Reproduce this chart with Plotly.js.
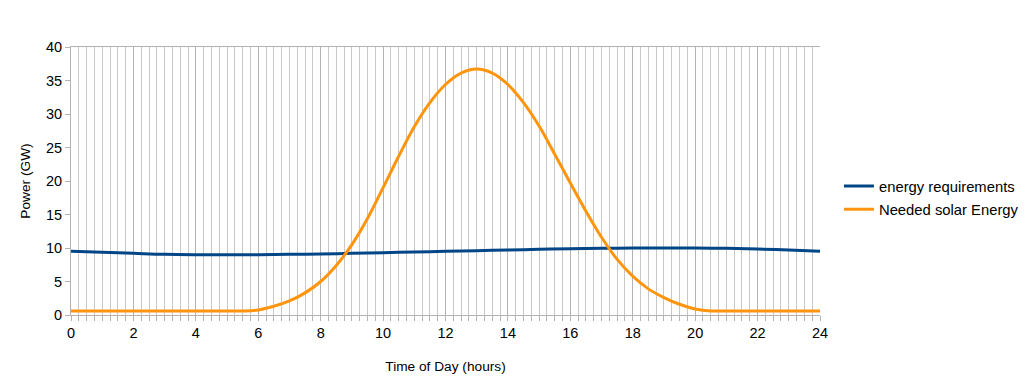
<!DOCTYPE html>
<html>
<head>
<meta charset="utf-8">
<script src="https://cdn.plot.ly/plotly-3.0.1.min.js"></script>
<style>html,body{margin:0;padding:0;background:#fff;}#chart{width:1029px;height:384px;}</style>
</head>
<body>
<div id="chart"></div>
<script>
const demandHours = [0,1,2,3,4,5,6,7,8,9,10,11,12,13,14,15,16,17,18,19,20,21,22,23,24];
const energyRequirements = [9.5,9.35,9.2,9.05,9.0,9.0,9.0,9.05,9.1,9.2,9.3,9.4,9.5,9.6,9.7,9.8,9.9,9.95,10.0,10.0,10.0,9.95,9.85,9.7,9.5];

const solarHours = [0,1,2,3,4,5,5.5,6,6.5,7,7.5,8,8.5,9,9.5,10,10.5,11,11.5,12,12.5,13,13.5,14,14.5,15,15.5,16,16.5,17,17.5,18,18.5,19,19.5,20,20.5,21,22,23,24];
const neededSolar = [0.6,0.6,0.6,0.6,0.6,0.6,0.6,0.75,1.3,2.1,3.3,5.0,7.4,10.5,14.4,19.0,23.7,28.1,31.7,34.4,36.1,36.7,36.1,34.4,31.7,28.2,24.0,19.7,15.5,11.6,8.3,5.8,3.9,2.6,1.6,0.9,0.6,0.6,0.6,0.6,0.6];

const xTickVals = [0,2,4,6,8,10,12,14,16,18,20,22,24];
const yTickVals = [0,5,10,15,20,25,30,35,40];

const traces = [
  {x: demandHours, y: energyRequirements, name: 'energy requirements', mode: 'lines', legendgroup: 'a',
   line: {color: '#004586', width: 3, shape: 'spline'}},
  {x: solarHours, y: neededSolar, name: 'Needed solar Energy', mode: 'lines', legendgroup: 'b',
   line: {color: '#ff950e', width: 3, shape: 'spline', smoothing: 1}}
];

const layout = {
  width: 1029, height: 384,
  margin: {l: 71, r: 209, t: 47, b: 69, autoexpand: false},
  paper_bgcolor: '#fff', plot_bgcolor: '#fff',
  font: {family: 'Liberation Sans, Arial, sans-serif', color: '#000', size: 14},
  showlegend: true,
  legend: {x: 1.0253, xanchor: 'left', y: 0.437, yanchor: 'middle', font: {size: 14.8},
           traceorder: 'grouped', tracegroupgap: 1, itemwidth: 30},
  xaxis: {
    range: [0, 24], tickvals: xTickVals, ticktext: xTickVals.map(String),
    showgrid: true, gridcolor: '#b3b3b3', gridwidth: 1,
    showline: true, linecolor: '#b3b3b3', linewidth: 1, mirror: true,
    ticks: 'outside', ticklen: 5, tickcolor: '#b3b3b3',
    minor: {dtick: 0.25, showgrid: true, gridcolor: '#c8c8c8', gridwidth: 1, ticks: 'outside', ticklen: 5, tickcolor: '#b3b3b3'},
    zeroline: false, tickfont: {size: 14.5},
    title: {text: 'Time of Day (hours)', font: {size: 13.7}, standoff: 21}
  },
  yaxis: {
    range: [0, 40], tickvals: yTickVals, ticktext: yTickVals.map(String),
    showgrid: false, zeroline: false,
    showline: true, linecolor: '#b3b3b3', linewidth: 1,
    ticks: 'outside', ticklen: 5, tickcolor: '#b3b3b3', tickfont: {size: 14.5},
    title: {text: 'Power (GW)', font: {size: 13.7}, standoff: 12}
  }
};

Plotly.newPlot('chart', traces, layout, {displayModeBar: false, staticPlot: true});
</script>
</body>
</html>
